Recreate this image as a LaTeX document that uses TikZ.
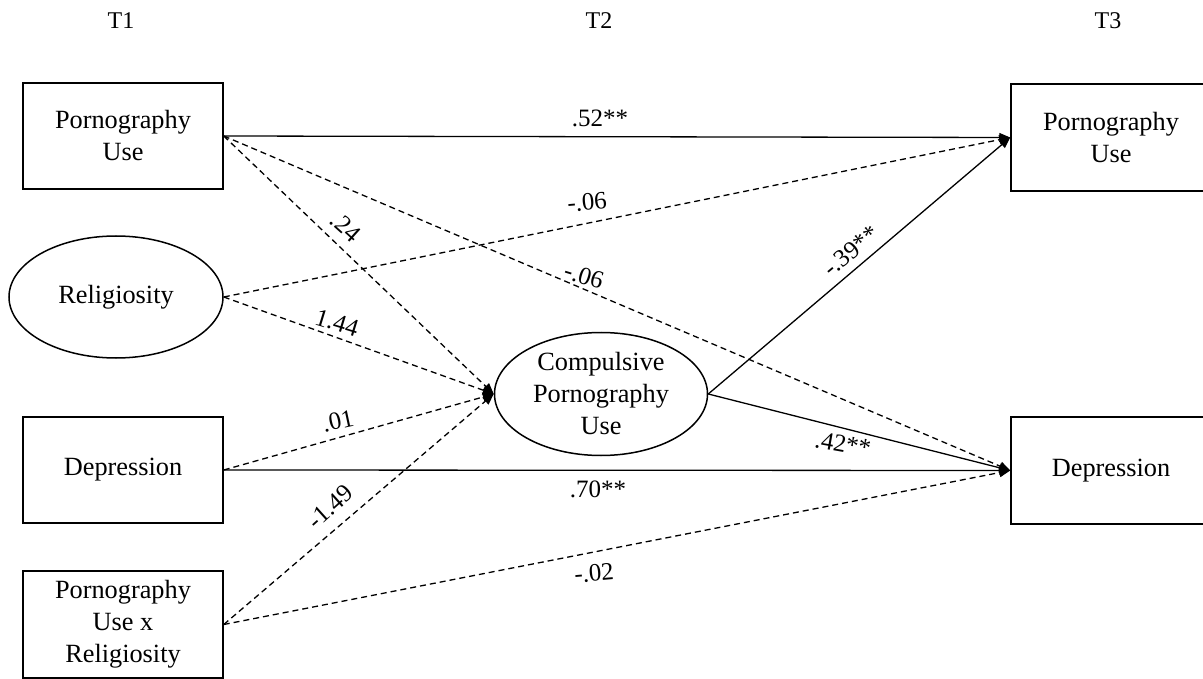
\documentclass[tikz,border=0pt]{standalone}
\usepackage{fontspec}
\setmainfont{Liberation Serif}
\usetikzlibrary{shapes.geometric,arrows.meta}
\begin{document}
\begin{tikzpicture}[x=1pt,y=-1pt,
  box/.style={draw,line width=1.5pt,minimum width=200pt,minimum height=106pt,align=center,inner sep=0pt,font=\fontsize{26.3}{32}\selectfont},
  oval/.style={draw,ellipse,line width=1.5pt,minimum width=214pt,minimum height=122pt,align=center,inner sep=0pt,font=\fontsize{26.3}{32}\selectfont},
  hdr/.style={font=\fontsize{24}{28}\selectfont,inner sep=0pt},
  lbl/.style={font=\fontsize{25}{28}\selectfont,inner sep=0pt},
  solidarrow/.style={line width=1.3pt,-{Triangle[length=11pt,width=9pt]}},
  dasharrow/.style={solidarrow,dash pattern=on 6pt off 4pt}
]
\useasboundingbox (0,0) rectangle (1203,679);
% headers
\node[hdr] (t1) at (121,21) {T1};
\node[hdr] (t2) at (599,21) {T2};
\node[hdr] (t3) at (1108,21) {T3};
% nodes
\node[box] (pu1) at (123,136) {Pornography\\Use};
\node[oval] (rel) at (116,297) {Religiosity};
\node[box] (dep1) at (123,470) {Depression};
\node[box,minimum height=107pt] (pxr) at (123,624.5) {Pornography\\Use x\\Religiosity};
\node[oval,minimum width=213pt,minimum height=123pt] (cpu) at (601,394) {Compulsive\\Pornography\\Use};
\node[box,minimum height=107pt] (pu3) at (1111,137.5) {Pornography\\Use};
\node[box,minimum height=107pt] (dep3) at (1111,470.5) {Depression};
% connectors
\draw[solidarrow] (pu1.east) -- (pu3.west);
\draw[dasharrow] (rel.east) -- (pu3.west);
\draw[dasharrow] (pu1.east) -- (dep3.west);
\draw[dasharrow] (pu1.east) -- (cpu.west);
\draw[dasharrow] (rel.east) -- (cpu.west);
\draw[dasharrow] (dep1.east) -- (cpu.west);
\draw[solidarrow] (dep1.east) -- (dep3.west);
\draw[dasharrow] (pxr.east) -- (cpu.west);
\draw[dasharrow] (pxr.east) -- (dep3.west);
\draw[solidarrow] (cpu.east) -- (pu3.west);
\draw[solidarrow] (cpu.east) -- (dep3.west);
% labels
\node[lbl] (l1) at (600,118) {.52**};
\node[lbl,rotate=5] (l2) at (587,202) {-.06};
\node[lbl,rotate=-42] (l3) at (346,227) {.24};
\node[lbl,rotate=-17] (l4) at (584,276) {-.06};
\node[lbl,rotate=-17] (l5) at (337,323) {1.44};
\node[lbl,rotate=12] (l6) at (338,421) {.01};
\node[lbl] (l7) at (598,489) {.70**};
\node[lbl,rotate=42] (l8) at (330,507) {-1.49};
\node[lbl,rotate=5] (l9) at (594,573) {-.02};
\node[lbl,rotate=40] (l10) at (851,251) {-.39**};
\node[lbl,rotate=-10] (l11) at (843,444) {.42**};
\end{tikzpicture}
\end{document}
